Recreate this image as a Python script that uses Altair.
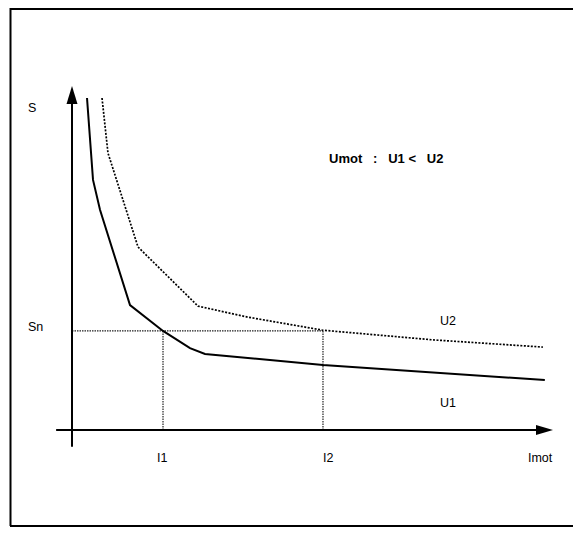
import altair as alt
import pandas as pd

# Curve U1 (solid) and U2 (dotted): slip S vs motor current Imot (schematic units 0-100)
u1_x = [3.12, 4.37, 5.82, 12.06, 18.92, 24.53, 27.65, 52.18, 98.3]
u1_y = [96.5, 72.7, 64.0, 36.3, 28.8, 23.8, 22.1, 18.9, 14.5]
u2_x = [6.24, 7.48, 13.72, 26.2, 36.6, 52.18, 75.05, 97.9]
u2_y = [96.5, 80.5, 53.2, 36.0, 32.8, 29.0, 26.2, 24.1]

Sn = 28.8
I1 = 18.92
I2 = 52.18

label_text = ["S", "Sn", "I1", "I2", "Imot", "U2", "U1"]
label_x = [-9.15, -9.15, 17.67, 52.18, 94.8, 76.5, 76.5]
label_y = [92.4, 28.8, -9.3, -9.3, -9.3, 30.5, 6.7]

NB = "\u00a0"
title_text = ["Umot" + NB * 3 + ":" + NB * 3 + "U1" + NB + "<" + NB * 3 + "U2"]
title_x = [53.43]
title_y = [77.6]

W, H = 565, 519
xs = alt.Scale(domain=[-13.306, (8 + W - 72) / 4.81], nice=False, zero=False)
ys = alt.Scale(domain=[(430 - 8 - H) / 3.44, 122.67], nice=False, zero=False)

def X(f="x"):
    return alt.X(f"{f}:Q", scale=xs, axis=None)

def Y(f="y"):
    return alt.Y(f"{f}:Q", scale=ys, axis=None)

u1 = pd.DataFrame({"x": u1_x, "y": u1_y, "o": range(len(u1_x))})
u2 = pd.DataFrame({"x": u2_x, "y": u2_y, "o": range(len(u2_x))})

line1 = alt.Chart(u1).mark_line(color="black", strokeWidth=2).encode(
    x=X(), y=Y(), order="o:Q")
line2 = alt.Chart(u2).mark_line(color="black", strokeWidth=1.7, strokeDash=[2, 1.5]).encode(
    x=X(), y=Y(), order="o:Q")

# guide lines
hline = alt.Chart(pd.DataFrame({"x": [0], "x2": [I2], "y": [Sn]})).mark_rule(
    color="#222", strokeWidth=1.2, strokeDash=[1.5, 1]).encode(x=X(), x2="x2:Q", y=Y())
vlines = alt.Chart(pd.DataFrame({"x": [I1, I2], "y": [0, 0], "y2": [Sn, Sn]})).mark_rule(
    color="#222", strokeWidth=1.2, strokeDash=[1.5, 1]).encode(x=X(), y=Y(), y2="y2:Q")

# axes with arrows
xaxis = alt.Chart(pd.DataFrame({"x": [-3.3], "x2": [97.5], "y": [0]})).mark_rule(
    color="black", strokeWidth=2).encode(x=X(), x2="x2:Q", y=Y())
yaxis = alt.Chart(pd.DataFrame({"x": [0], "y": [-4.9], "y2": [96.5]})).mark_rule(
    color="black", strokeWidth=2).encode(x=X(), y=Y(), y2="y2:Q")
arrow_x = alt.Chart(pd.DataFrame({"x": [98.23], "y": [0]})).mark_point(
    shape="M1,0 L-1,-0.59 L-1,0.59 Z", size=289, filled=True, color="black", opacity=1,
    strokeWidth=0).encode(x=X(), y=Y())
arrow_y = alt.Chart(pd.DataFrame({"x": [0], "y": [97.38]})).mark_point(
    shape="M0,-1 L0.61,1 L-0.61,1 Z", size=324, filled=True, color="black", opacity=1,
    strokeWidth=0).encode(x=X(), y=Y())

labels = alt.Chart(pd.DataFrame({"t": label_text, "x": label_x, "y": label_y})).mark_text(
    align="left", baseline="alphabetic", font="Liberation Sans", fontSize=12.5, color="black"
).encode(x=X(), y=Y(), text="t:N")
title = alt.Chart(pd.DataFrame({"t": title_text, "x": title_x, "y": title_y})).mark_text(
    align="left", baseline="alphabetic", font="Liberation Sans", fontSize=13,
    fontWeight="bold", color="black"
).encode(x=X(), y=Y(), text="t:N")

# frame around the figure (open on the right, where it runs past the page)
frame = pd.DataFrame({"x": [2.5, 2.0, 2.0], "x2": [2.5, W + 5.0, W + 5.0],
                      "y": [0.0, 1.0, H - 1.0], "y2": [H - 1.0, 1.0, H - 1.0]})
frame_lines = alt.Chart(frame).mark_rule(color="black", strokeWidth=2).encode(
    x=alt.X("x:Q", scale=None, axis=None), x2="x2:Q",
    y=alt.Y("y:Q", scale=None, axis=None), y2="y2:Q")

chart = alt.layer(
    frame_lines,
    hline, vlines, xaxis, yaxis, arrow_x, arrow_y,
    line2, line1, labels, title
).resolve_scale(x="independent", y="independent").properties(
    width=W, height=H, padding=0, autosize=alt.AutoSizeParams(type="none")
).configure_view(strokeWidth=0, stroke="transparent")

chart.save("out.html", embed_options={"renderer": "svg", "actions": False})
